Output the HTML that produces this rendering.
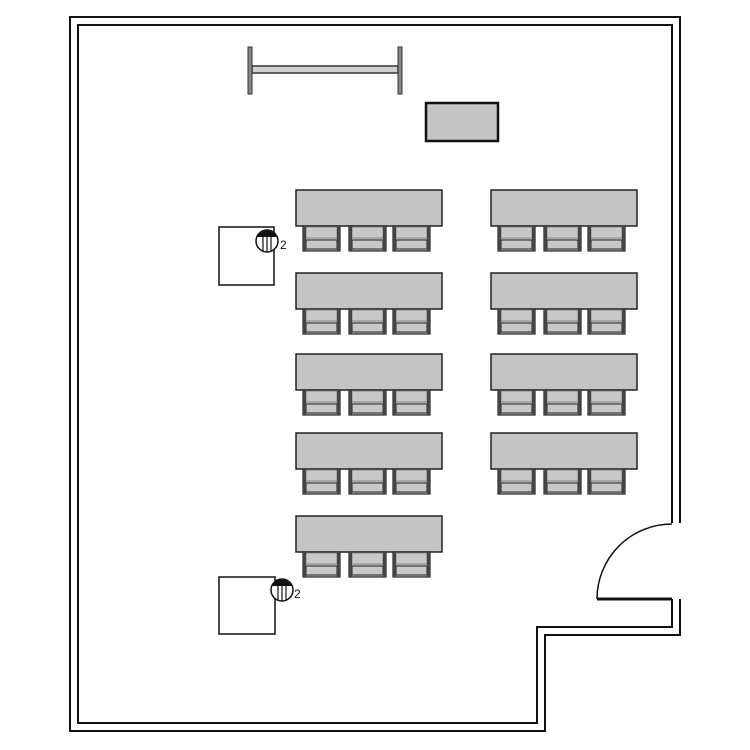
<!DOCTYPE html>
<html><head><meta charset="utf-8"><style>html,body{margin:0;padding:0;background:#fff}svg{display:block}</style></head>
<body>
<svg width="750" height="750" viewBox="0 0 750 750" xmlns="http://www.w3.org/2000/svg">
<defs>
<g id="chair">
<rect x="0" y="0" width="37" height="25" fill="#c4c4c4" stroke="#222" stroke-width="1.2"/>
<rect x="3" y="1" width="31" height="11" fill="#c8c8c8" stroke="#777" stroke-width="0.8"/>
<rect x="3" y="14" width="31" height="9" fill="#c8c8c8" stroke="#222" stroke-width="1"/>
<rect x="0" y="0" width="3" height="25" fill="#444"/>
<rect x="34" y="0" width="3" height="25" fill="#444"/>
</g>
<g id="tbl">
<rect x="0" y="0" width="146" height="36" fill="#c4c4c4" stroke="#222" stroke-width="1.5"/>
<use href="#chair" x="7" y="36"/>
<use href="#chair" x="53" y="36"/>
<use href="#chair" x="97" y="36"/>
</g>
<g id="cam">
<circle cx="0" cy="0" r="11" fill="#fff" stroke="#111" stroke-width="1.5"/>
<path d="M-10,-4 A11,11 0 0 1 10,-4 Z" fill="#111"/>
<line x1="-4" y1="-4" x2="-4" y2="10" stroke="#111" stroke-width="1.2"/>
<line x1="0" y1="-4" x2="0" y2="11" stroke="#111" stroke-width="1.2"/>
<line x1="4" y1="-4" x2="4" y2="10" stroke="#111" stroke-width="1.2"/>
</g>
</defs>
<g fill="none" stroke="#111" stroke-width="2">
<!-- outer wall -->
<polyline points="680,523 680,17 70,17 70,731 545,731 545,635 680,635 680,599"/>
<!-- inner wall -->
<polyline points="672,523 672,25 78,25 78,723 537,723 537,627 672,627 672,599"/>
<!-- door -->
<line x1="597" y1="599" x2="672" y2="599" stroke-width="3"/>
<path d="M597,599 A75,75 0 0 1 672,524" stroke-width="1.5"/>
</g>
<!-- whiteboard -->
<rect x="252" y="66" width="146" height="7" fill="#d0d0d0" stroke="#333" stroke-width="1.5"/>
<rect x="248" y="47" width="4" height="47" fill="#888" stroke="#333" stroke-width="1"/>
<rect x="398" y="47" width="4" height="47" fill="#888" stroke="#333" stroke-width="1"/>
<rect x="426" y="103" width="72" height="38" fill="#c4c4c4" stroke="#111" stroke-width="2.5"/>
<!-- tables -->
<use href="#tbl" x="296" y="190"/>
<use href="#tbl" x="296" y="273"/>
<use href="#tbl" x="296" y="354"/>
<use href="#tbl" x="296" y="433"/>
<use href="#tbl" x="296" y="516"/>
<use href="#tbl" x="491" y="190"/>
<use href="#tbl" x="491" y="273"/>
<use href="#tbl" x="491" y="354"/>
<use href="#tbl" x="491" y="433"/>
<!-- cameras -->
<rect x="219" y="227" width="55" height="58" fill="none" stroke="#111" stroke-width="1.5"/>
<use href="#cam" x="267" y="241"/>
<text x="280" y="249" font-family="Liberation Sans, sans-serif" font-size="12" fill="#111">2</text>
<rect x="219" y="577" width="56" height="57" fill="none" stroke="#111" stroke-width="1.5"/>
<use href="#cam" x="282" y="590"/>
<text x="294" y="598" font-family="Liberation Sans, sans-serif" font-size="12" fill="#111">2</text>
</svg>
</body></html>
